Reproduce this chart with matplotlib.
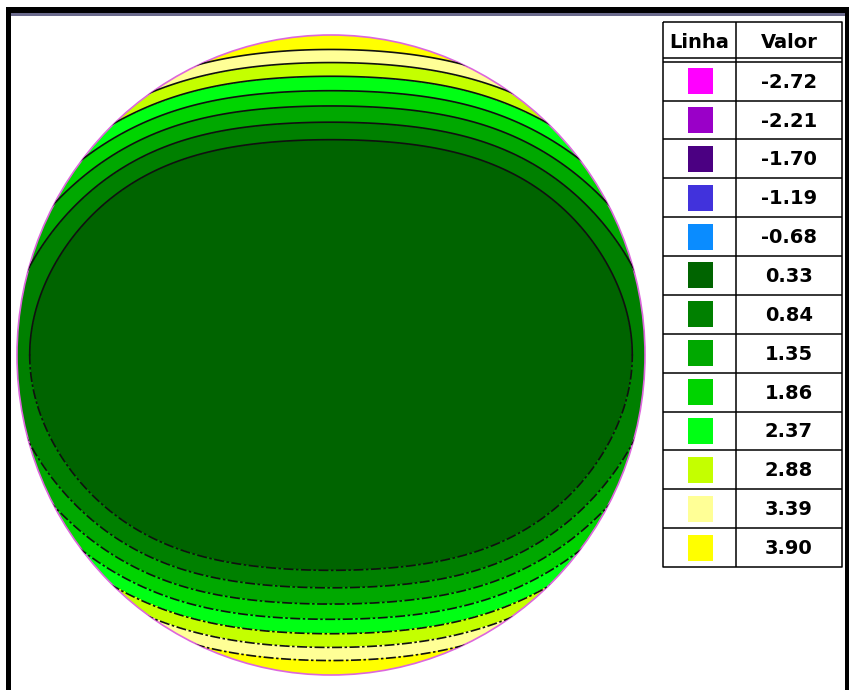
import numpy as np
import matplotlib.pyplot as plt
from matplotlib.patches import Ellipse, Rectangle

# Níveis da tabela e cores de cada faixa
valores = [-2.72, -2.21, -1.70, -1.19, -0.68, 0.33, 0.84, 1.35, 1.86, 2.37, 2.88, 3.39, 3.90]
cores = ['#ff00ff', '#9a00c8', '#4b0082', '#4132dc', '#0a8cff', '#006400', '#008000',
         '#00a800', '#00d400', '#00ff14', '#c4ff00', '#ffff96', '#ffff00']

# Campo na placa circular (h, v normalizados pelos raios):
# z = z0 + kx*h^2 + ky*v^2 + kc*h^2*v^2*(1 - h^2 - v^2)
z0, kx, ky, kc = -2.18, 3.28, 6.67, -6.0
cx, cy = 331, 355      # centro da placa
rx, ry = 314, 320      # raios

W, H = 849, 690
fig = plt.figure(figsize=(W / 100, H / 100), dpi=100)
ax = fig.add_axes([0, 0, 1, 1])
ax.set_xlim(0, W)
ax.set_ylim(H, 0)
ax.axis('off')

x = np.linspace(cx - rx, cx + rx, 700)
y = np.linspace(cy - ry, cy + ry, 700)
X, Y = np.meshgrid(x, y)
h = (X - cx) / rx
v = (Y - cy) / ry
Z = z0 + kx * h**2 + ky * v**2 + kc * h**2 * v**2 * (1 - h**2 - v**2)

borda = Ellipse((cx, cy), 2 * rx, 2 * ry, facecolor='none', edgecolor='none')
ax.add_patch(borda)

# faixas preenchidas: cada faixa recebe a cor do nível inferior
linhas = valores[6:]
limites = [Z.min() - 1] + linhas + [Z.max() + 1]
cs = ax.contourf(X, Y, Z, levels=limites, colors=cores[5:])
cs.set_clip_path(borda)

# linhas de contorno: metade de cima contínua, metade de baixo traço-ponto
Zc = np.ma.masked_where(Y > cy + 1, Z)
Zb = np.ma.masked_where(Y < cy - 1, Z)
c1 = ax.contour(X, Y, Zc, levels=linhas, colors='#101010', linewidths=1.2)
c2 = ax.contour(X, Y, Zb, levels=linhas, colors='#101010', linewidths=1.2,
                linestyles=[(0, (6, 1.5, 1.5, 1.5))])
c1.set_clip_path(borda)
c2.set_clip_path(borda)

ax.add_patch(Ellipse((cx, cy), 2 * rx, 2 * ry, facecolor='none',
                     edgecolor='#dd66dd', lw=1.2))

# tabela de legenda
tx0, tx1, tdiv = 663, 842, 736
ty0, ty_cab, ty1 = 22, 61.7, 567
nl = len(valores)
alt = (ty1 - ty_cab) / nl
kw = dict(color='black', lw=1.1, solid_capstyle='butt')
ax.plot([tx0, tx1, tx1, tx0, tx0], [ty0, ty0, ty1, ty1, ty0], **kw)
ax.plot([tdiv, tdiv], [ty0, ty1], **kw)
ax.plot([tx0, tx1], [57.5, 57.5], **kw)
fonte = dict(family='DejaVu Sans', fontweight='bold', fontsize=14,
             ha='center', va='center')
ax.text((tx0 + tdiv) / 2, 43, 'Linha', **fonte)
ax.text(789, 43, 'Valor', **fonte)
for i, (val, cor) in enumerate(zip(valores, cores)):
    yc = ty_cab + alt * (i + 0.5)
    ax.plot([tx0, tx1], [ty_cab + alt * i] * 2, **kw)
    ax.add_patch(Rectangle((688, yc - 13), 25, 26, facecolor=cor, edgecolor='none'))
    ax.text(789, yc + 1, f'{val:.2f}', **fonte)

# moldura da janela
ax.add_patch(Rectangle((6, 7), W - 6, 6, facecolor='black', edgecolor='none'))
ax.add_patch(Rectangle((11, 13), W - 11, 3, facecolor='#6a6a8c', edgecolor='none'))
ax.add_patch(Rectangle((6, 7), 5.5, H - 7, facecolor='black', edgecolor='none'))
ax.add_patch(Rectangle((845, 7), 4, H - 7, facecolor='black', edgecolor='none'))

fig.savefig('out.png', dpi=100)
